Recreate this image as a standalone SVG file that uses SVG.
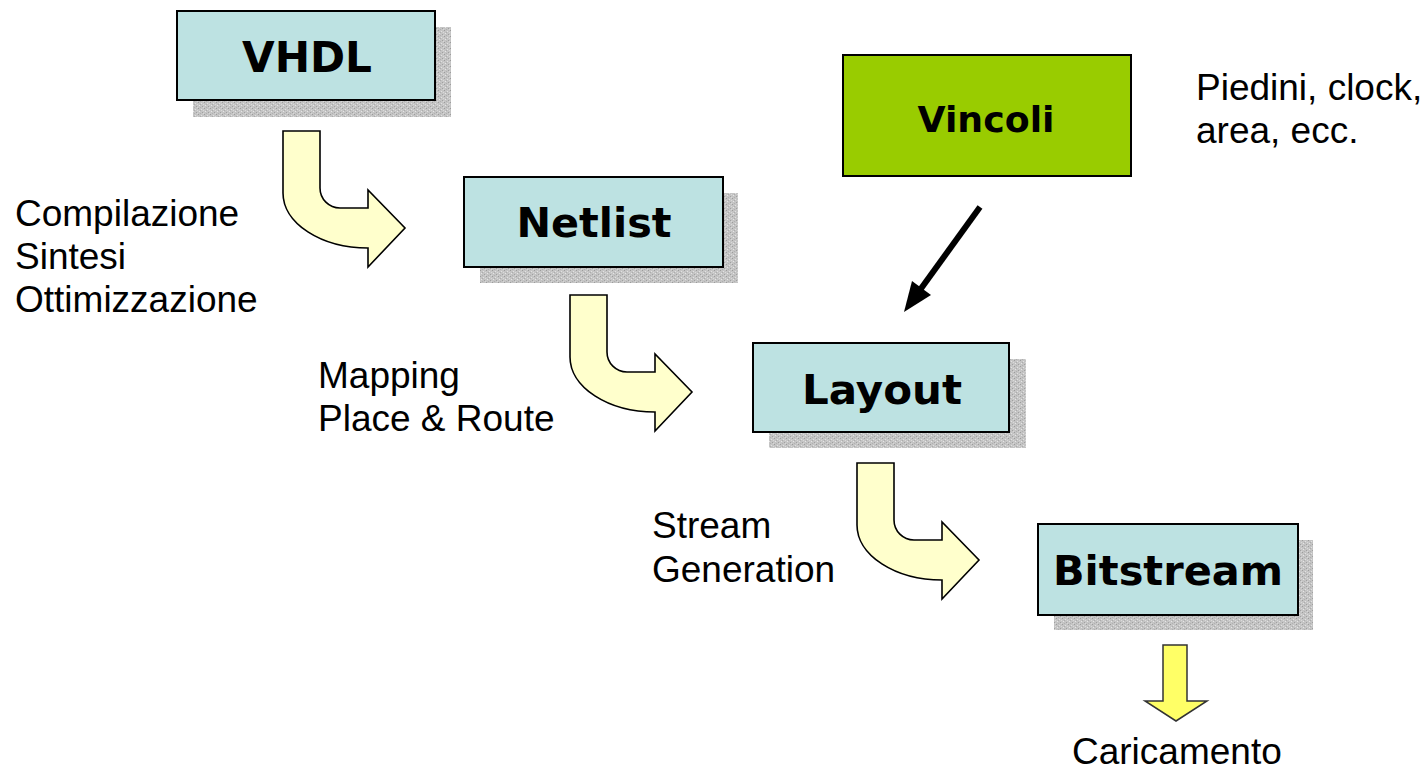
<svg xmlns="http://www.w3.org/2000/svg" width="1428" height="770" viewBox="0 0 1428 770">
  <defs>
    <!-- speckled grey fill used for the drop shadows -->
    <pattern id="speckle" width="6" height="6" patternUnits="userSpaceOnUse">
      <rect width="6" height="6" fill="#c4c4c4"/>
      <rect x="0" y="0" width="1" height="1" fill="#9c9c9c"/>
      <rect x="3" y="1" width="1" height="1" fill="#e2e2e2"/>
      <rect x="1" y="3" width="1" height="1" fill="#e6e6e6"/>
      <rect x="4" y="4" width="1" height="1" fill="#a0a0a0"/>
      <rect x="2" y="5" width="1" height="1" fill="#b0b0b0"/>
      <rect x="5" y="2" width="1" height="1" fill="#dadada"/>
      <rect x="2" y="2" width="1" height="1" fill="#acacac"/>
      <rect x="5" y="5" width="1" height="1" fill="#d8d8d8"/>
    </pattern>
    <!-- bent block arrow, drawn from the top-left corner of its shaft -->
    <path id="bend" d="M0,0 H37 V57 A20,20 0 0 0 57,77 H85 V59 L122,97 L85,136 V117 A85,55 0 0 1 0,62 Z"/>
  </defs>
  <style>
    .shadow { fill: url(#speckle); }
    .box { fill: #bde2e2; stroke: #000; stroke-width: 2; }
    .green { fill: #99cc00; stroke: #000; stroke-width: 2; }
    .title { font-family: "DejaVu Sans", Verdana, sans-serif; font-weight: bold; fill: #000; text-anchor: middle; }
    .label { font-family: "Liberation Sans", Arial, sans-serif; font-size: 37px; fill: #000; }
    .bent { fill: #ffffcc; stroke: #000; stroke-width: 1.6; stroke-linejoin: miter; }
    .down { fill: #ffff66; stroke: #333; stroke-width: 1.5; }
  </style>

  <g id="vhdl">
    <rect class="shadow" x="193" y="27" width="258" height="90"/>
    <rect class="box" x="177" y="11" width="258" height="89"/>
    <text class="title" x="307" y="72" font-size="42" textLength="130" lengthAdjust="spacingAndGlyphs">VHDL</text>
  </g>

  <g id="netlist">
    <rect class="shadow" x="480" y="193" width="258" height="90"/>
    <rect class="box" x="464" y="177" width="259" height="90"/>
    <text class="title" x="594" y="237" font-size="41" textLength="155" lengthAdjust="spacingAndGlyphs">Netlist</text>
  </g>

  <g id="vincoli">
    <rect class="green" x="843" y="55" width="288" height="121"/>
    <text class="title" x="986" y="132" font-size="36" textLength="137" lengthAdjust="spacingAndGlyphs">Vincoli</text>
  </g>

  <g id="layout">
    <rect class="shadow" x="769" y="359" width="257" height="89"/>
    <rect class="box" x="753" y="343" width="256" height="89"/>
    <text class="title" x="882" y="404" font-size="41" textLength="160" lengthAdjust="spacingAndGlyphs">Layout</text>
  </g>

  <g id="bitstream">
    <rect class="shadow" x="1054" y="540" width="259" height="90"/>
    <rect class="box" x="1038" y="524" width="260" height="91"/>
    <text class="title" x="1168" y="585" font-size="41" textLength="230" lengthAdjust="spacingAndGlyphs">Bitstream</text>
  </g>

  <g id="connectors">
    <use href="#bend" class="bent" x="283" y="131"/>
    <use href="#bend" class="bent" x="570" y="295"/>
    <use href="#bend" class="bent" x="857" y="463"/>
    <!-- constraints feed into layout -->
    <line x1="980" y1="207" x2="920" y2="290" stroke="#000" stroke-width="6"/>
    <polygon points="904,312 912,281 931,295" fill="#000"/>
    <!-- download of the bitstream -->
    <path class="down" d="M1163,645 H1187 V701 H1207 L1176,721 L1145,701 H1163 Z"/>
  </g>

  <g id="labels">
    <text class="label" x="15" y="226">Compilazione</text>
    <text class="label" x="15" y="269">Sintesi</text>
    <text class="label" x="15" y="312">Ottimizzazione</text>
    <text class="label" x="318" y="388">Mapping</text>
    <text class="label" x="318" y="431">Place &amp; Route</text>
    <text class="label" x="652" y="538">Stream</text>
    <text class="label" x="652" y="582">Generation</text>
    <text class="label" x="1196" y="100">Piedini, clock,</text>
    <text class="label" x="1196" y="143">area, ecc.</text>
    <text class="label" x="1072" y="764">Caricamento</text>
  </g>
</svg>
